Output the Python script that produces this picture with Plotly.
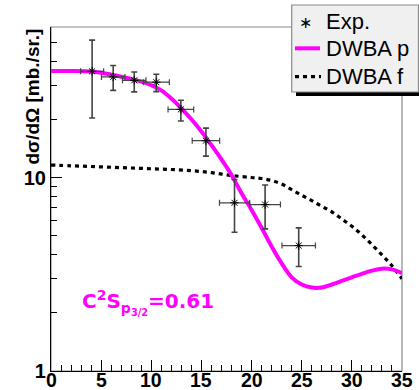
import plotly.graph_objects as go

# Measured differential cross sections (c.m. angle in degrees, mb/sr)
angle = [4.1, 6.2, 8.3, 10.5, 12.95, 15.45, 18.3, 21.35, 24.7]
angle_err = [1.15, 1.17, 1.17, 1.3, 1.28, 1.37, 1.5, 1.53, 1.67]
xsec = [35.4, 33.1, 31.8, 31.1, 22.5, 15.5, 7.4, 7.25, 4.45]
xsec_hi = [51.3, 37.9, 35.1, 34.2, 25.1, 18.0, 9.77, 9.15, 5.49]
xsec_lo = [20.3, 28.2, 27.7, 27.8, 19.6, 12.9, 5.21, 5.43, 3.47]

# DWBA calculation, l = 1 (p-wave) transfer
p_angle = [0, 2, 4, 5, 6, 7, 8, 9, 10, 11, 12, 13, 14, 15, 16, 17, 18, 19, 20,
           21, 22, 23, 24, 25, 26, 27, 28, 29, 30, 31, 32, 33, 34, 35]
p_xsec = [35.5, 35.5, 35.3, 34.8, 34.0, 33.2, 32.3, 31.3, 30.0, 28.2, 25.6, 22.8,
          20.0, 17.3, 14.7, 12.4, 10.3, 8.3, 6.8, 5.5, 4.4, 3.6, 3.05, 2.8,
          2.7, 2.7, 2.8, 2.92, 3.05, 3.18, 3.3, 3.38, 3.35, 3.2]

# DWBA calculation, l = 3 (f-wave) transfer
f_angle = [0, 2, 4, 6, 8, 10, 12, 14, 16, 18, 20, 21, 22, 23, 24, 25, 26, 27,
           28, 29, 30, 31, 32, 33, 34, 35]
f_xsec = [11.6, 11.5, 11.4, 11.3, 11.2, 11.1, 11.0, 10.85, 10.6, 10.25, 10.0,
          9.88, 9.65, 9.25, 8.65, 8.1, 7.6, 7.1, 6.65, 6.1, 5.6, 5.05, 4.5,
          3.98, 3.5, 3.0]

x_ticks = [0, 5, 10, 15, 20, 25, 30, 35]
y_ticks = [1, 10]
y_minor = [2, 3, 4, 5, 6, 7, 8, 9, 20, 30, 40, 50]

W, H = 419, 390
ML, MR, MT, MB = 51, 17, 27, 19
PW, PH = W - ML - MR, H - MT - MB


def px(x):
    return (x - ML) / PW


def py(y):
    return (H - MB - y) / PH


FONT = "Liberation Sans, Arial, sans-serif"
MAGENTA = "#ff00ff"

fig = go.Figure()

fig.add_trace(go.Scatter(
    x=f_angle, y=f_xsec, mode="lines", line_shape="spline",
    line=dict(color="black", width=3.2, dash="4px,4px"), showlegend=False))

fig.add_trace(go.Scatter(
    x=p_angle, y=p_xsec, mode="lines", line_shape="spline",
    line=dict(color=MAGENTA, width=4), showlegend=False))

fig.add_trace(go.Scatter(
    x=angle, y=xsec, mode="markers",
    marker=dict(symbol="asterisk-open", size=7, color="black",
                line=dict(color="black", width=1)),
    error_x=dict(type="data", array=angle_err, color="#444", thickness=1.2, width=3),
    error_y=dict(type="data", symmetric=False,
                 array=[h - v for h, v in zip(xsec_hi, xsec)],
                 arrayminus=[v - l for l, v in zip(xsec_lo, xsec)],
                 color="#444", thickness=1.6, width=3),
    showlegend=False))

shapes = []
# frame of the pad
shapes.append(dict(type="rect", xref="paper", yref="paper", x0=0, x1=1, y0=0, y1=1,
                   line=dict(color="#8a8a8a", width=1.2), layer="below"))
# legend box with drop shadow
shapes.append(dict(type="rect", xref="paper", yref="paper",
                   x0=px(296), x1=px(423), y0=py(96), y1=py(9),
                   fillcolor="black", line=dict(width=0)))
shapes.append(dict(type="rect", xref="paper", yref="paper",
                   x0=px(291.7), x1=px(418.5), y0=py(92), y1=py(5),
                   fillcolor="#f0f0f0", line=dict(color="#8a8a8a", width=1.2)))
shapes.append(dict(type="line", xref="paper", yref="paper",
                   x0=px(295), x1=px(320), y0=py(48.3), y1=py(48.3),
                   line=dict(color=MAGENTA, width=4)))
shapes.append(dict(type="line", xref="paper", yref="paper",
                   x0=px(295), x1=px(321), y0=py(76.7), y1=py(76.7),
                   line=dict(color="black", width=3.2, dash="4px,4px")))

annotations = []
for label, yc in [("Exp.", 22), ("DWBA p", 48.3), ("DWBA f", 76.7)]:
    annotations.append(dict(xref="paper", yref="paper", x=px(324), y=py(yc),
                            xanchor="left", yanchor="middle", showarrow=False,
                            text=label, font=dict(family=FONT, size=22, color="black")))
annotations.append(dict(xref="paper", yref="paper", x=px(305), y=py(23),
                        xanchor="center", yanchor="middle", showarrow=False,
                        text="\u2217", font=dict(family=FONT, size=16, color="black")))
annotations.append(dict(xref="paper", yref="paper", x=px(31.5), y=py(97),
                        xanchor="center", yanchor="middle", showarrow=False,
                        textangle=-90, text="d\u03c3/d\u03a9 [mb./sr.]",
                        font=dict(family=FONT, size=19, color="black", weight="bold")))
annotations.append(dict(xref="paper", yref="paper", x=px(80), y=py(302),
                        xanchor="left", yanchor="middle", showarrow=False,
                        text="C<sup>2</sup>S<sub>p<sub>3/2</sub></sub>=0.61",
                        font=dict(family="DejaVu Sans", size=20, color=MAGENTA,
                                  weight="bold")))
# x tick labels, drawn tight under the axis
for v in x_ticks:
    annotations.append(dict(xref="x", yref="paper", x=v, y=py(390),
                            xanchor="center", yanchor="bottom", showarrow=False,
                            height=18, valign="middle", borderpad=0,
                            text=str(v),
                            font=dict(family=FONT, size=19.5, color="black",
                                      weight="bold")))

fig.update_layout(
    width=W, height=H,
    margin=dict(l=ML, r=MR, t=MT, b=MB),
    paper_bgcolor="white", plot_bgcolor="white",
    shapes=shapes, annotations=annotations,
    font=dict(family=FONT),
    xaxis=dict(range=[0, 35], tickmode="array", tickvals=x_ticks, automargin=False,
               showticklabels=False,
               ticks="inside", ticklen=11, tickwidth=1, tickcolor="black",
               minor=dict(dtick=1, ticks="inside", ticklen=6, tickcolor="black"),
               showline=True, linecolor="black", linewidth=1.2, showgrid=False,
               zeroline=False),
    yaxis=dict(type="log", range=[0, 1.778], tickmode="array", tickvals=y_ticks,
               ticktext=[str(v) for v in y_ticks], automargin=False,
               ticks="inside", ticklen=11, tickwidth=1, tickcolor="black",
               minor=dict(tickmode="array", tickvals=y_minor, ticks="inside",
                          ticklen=6, tickcolor="black"),
               showline=True, linecolor="black", linewidth=1.2, showgrid=False,
               zeroline=False, tickfont=dict(size=20, weight="bold", color="black")),
)

fig.write_html("out.html")
